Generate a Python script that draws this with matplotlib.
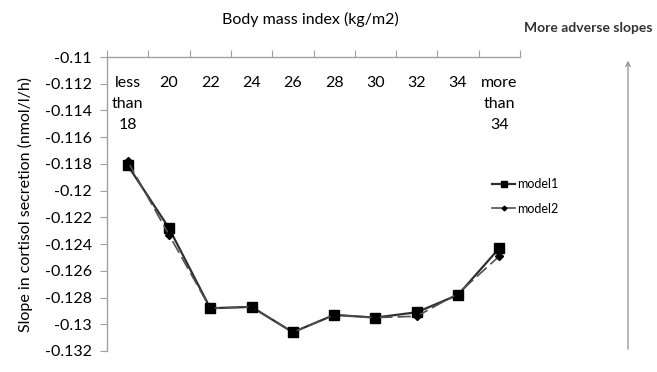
import matplotlib
matplotlib.use("Agg")
import matplotlib.pyplot as plt
import numpy as np

categories = ["less\nthan\n18", "20", "22", "24", "26", "28", "30", "32", "34", "more\nthan\n34"]
model1 = [-0.1181, -0.1228, -0.1288, -0.1287, -0.1306, -0.1293, -0.1295, -0.1291, -0.1278, -0.1243]
model2 = [-0.1178, -0.1233, -0.1288, -0.1287, -0.1306, -0.1293, -0.1295, -0.1294, -0.1277, -0.1249]
yticks = [-0.11, -0.112, -0.114, -0.116, -0.118, -0.12, -0.122, -0.124, -0.126, -0.128, -0.13, -0.132]

plt.rcParams['font.family'] = ['Lato', 'DejaVu Sans']

fig = plt.figure(figsize=(6.57, 3.72), dpi=100)
ax = fig.add_axes([107/657, 1-351/372, (520-107)/657, (351-57)/372])

x = np.arange(len(categories))
ax.plot(x, model1, color='#303030', lw=1.6, marker='s', ms=7, mfc='black', mec='black', label='model1', zorder=3)
ax.plot(x, model2, color='#505050', lw=1.2, ls=(0, (8, 3)), marker='D', ms=4, mfc='black', mec='black', label='model2', zorder=4)

ax.set_xlim(-0.5, len(categories) - 0.5)
ax.set_ylim(-0.132, -0.11)
ax.set_yticks(yticks)
ax.set_yticklabels([f"{v:g}" for v in yticks], fontsize=11.5)

for s in ['bottom', 'right']:
    ax.spines[s].set_visible(False)
for s in ['left', 'top']:
    ax.spines[s].set_color('#a0a0a0')
    ax.spines[s].set_linewidth(1)

ax.xaxis.set_ticks_position('top')
ax.set_xticks(np.arange(-0.5, len(categories), 1.0))
ax.tick_params(axis='x', which='major', direction='out', length=5, color='#a0a0a0', labeltop=False, labelbottom=False)
ax.tick_params(axis='y', direction='out', length=5, color='#a0a0a0', pad=6)

for i, c in enumerate(categories):
    ax.text(i, -0.1114, c, ha='center', va='top', fontsize=11.5, linespacing=1.65)

ax.set_ylabel("Slope in cortisol secretion (nmol/l/h)", fontsize=11.5, labelpad=8)

fig.text(310/657, 1-19/372, "Body mass index (kg/m2)", ha='center', va='center', fontsize=11.5)
fig.text(588/657, 1-28/372, "More adverse slopes", ha='center', va='center', fontsize=10, fontweight='bold', color='#333333')
fig.patches.append(matplotlib.patches.FancyArrowPatch((628/657, 1-352/372), (628/657, 1-58/372),
                   transform=fig.transFigure, arrowstyle='->', mutation_scale=8, color='#909090', lw=0.9))

leg = ax.legend(loc='upper left', bbox_to_anchor=(486/657, 1-172/372), bbox_transform=fig.transFigure,
                frameon=False, fontsize=9, handlelength=1.8, labelspacing=1.0, borderpad=0, handletextpad=0.2,
                markerscale=0.6)
for h in leg.get_lines():
    h.set_linestyle('-')

fig.savefig("out.png", dpi=100)
